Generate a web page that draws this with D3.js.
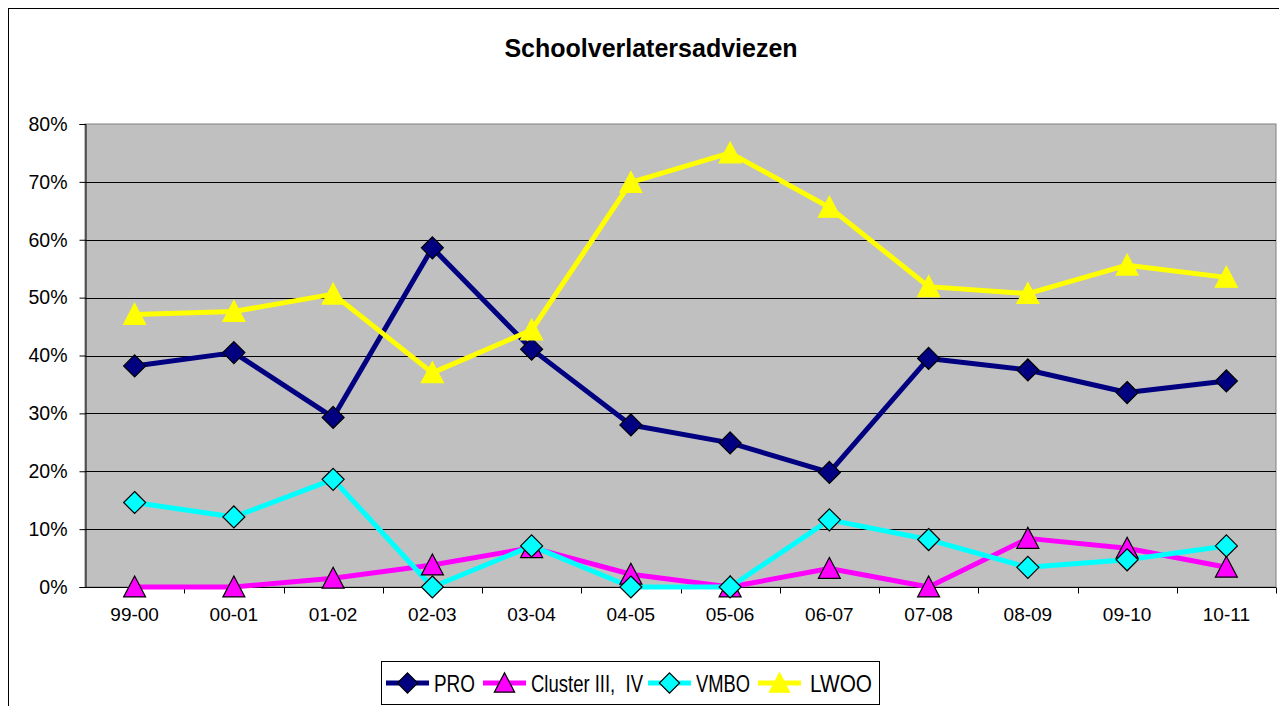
<!DOCTYPE html>
<html>
  <head>
    <meta charset="utf-8">
    <title>Schoolverlatersadviezen</title>
    <script src="https://d3js.org/d3.v7.min.js"></script>
    <style>
      body { margin: 0; background: #fff; }
      text { font-family: Arial, "Liberation Sans", sans-serif; fill: #000; }
    </style>
  </head>
  <body>
    <div id="graph"></div>
  </body>

  <script>
    // Chart data (percent)
    const years = ["99-00", "00-01", "01-02", "02-03", "03-04", "04-05", "05-06", "06-07", "07-08", "08-09", "09-10", "10-11"];
    const pro     = [38.2, 40.5, 29.3, 58.6, 41.1, 28.0, 24.9, 19.8, 39.5, 37.5, 33.6, 35.6];
    const cluster = [0, 0, 1.5, 3.8, 6.8, 2.2, 0, 3.2, 0, 8.4, 6.7, 3.4];
    const vmbo    = [14.6, 12.1, 18.6, 0, 7.1, 0, 0, 11.6, 8.2, 3.4, 4.7, 7.1];
    const lwoo    = [47.1, 47.6, 50.6, 37.0, 44.4, 69.9, 75.0, 65.6, 51.9, 50.7, 55.6, 53.5];
    const y_ticks = [0, 10, 20, 30, 40, 50, 60, 70, 80];

    const width = 1279;
    const height = 706;
    const margin = ({top: 124, right: 3, bottom: 119, left: 85});

    // marker shapes like the spreadsheet ones
    const diamond = {draw(ctx, size) {
      const r = Math.sqrt(size) / 2;
      ctx.moveTo(0, -r); ctx.lineTo(r, 0); ctx.lineTo(0, r); ctx.lineTo(-r, 0); ctx.closePath();
    }};
    const triangle = {draw(ctx, size) {
      const r = Math.sqrt(size) / 2;
      ctx.moveTo(0, -r); ctx.lineTo(r, r * 0.9); ctx.lineTo(-r, r * 0.9); ctx.closePath();
    }};

    const series = [
      {name: "PRO", values: pro, color: "#000080", shape: diamond, size: 484},
      {name: "Cluster III,  IV", values: cluster, color: "#ff00ff", shape: triangle, size: 484},
      {name: "VMBO", values: vmbo, color: "#00ffff", shape: diamond, size: 484},
      {name: "LWOO", values: lwoo, color: "#ffff00", shape: triangle, size: 484}
    ];

    let svg = d3.select("#graph").append("svg")
      .attr("width", width)
      .attr("height", height);

    // outer chart border
    svg.append("rect")
      .attr("x", 8.5).attr("y", 8.5)
      .attr("width", width + 20).attr("height", height + 20)
      .attr("fill", "#fff")
      .attr("stroke", "#000")
      .attr("stroke-width", 1);

    svg.append("text")
      .attr("x", 651)
      .attr("y", 57)
      .style("text-anchor", "middle")
      .style("font-size", "25px")
      .style("font-weight", "bold")
      .text("Schoolverlatersadviezen");

    let x = d3.scaleBand()
      .domain(years)
      .range([margin.left, width - margin.right]);
    let y = d3.scaleLinear()
      .domain([0, 80])
      .range([height - margin.bottom, margin.top]);

    // plot area
    svg.append("rect")
      .attr("x", margin.left).attr("y", margin.top)
      .attr("width", width - margin.right - margin.left)
      .attr("height", y(0) - margin.top)
      .attr("fill", "#c0c0c0")
      .attr("stroke", "#808080");

    // gridlines
    svg.append("g")
      .selectAll("line")
      .data(y_ticks.filter(d => d > 0 && d < 80))
      .join("line")
      .attr("x1", margin.left).attr("x2", width - margin.right)
      .attr("y1", d => Math.round(y(d)) + 0.5).attr("y2", d => Math.round(y(d)) + 0.5)
      .attr("stroke", "#000");

    // y axis
    let y_axis = d3.axisLeft(y)
      .tickValues(y_ticks)
      .tickSize(6)
      .tickPadding(12)
      .tickFormat(d => d + "%");
    let gy = svg.append("g")
      .attr("transform", `translate(${margin.left + 0.5}, 0)`)
      .call(y_axis);
    gy.select(".domain").attr("stroke", "#000");
    gy.selectAll("text").style("font-size", "19.5px").attr("font-family", null);

    // x axis: ticks on category boundaries
    let gx = svg.append("g")
      .attr("transform", `translate(0, ${Math.round(y(0)) + 0.5})`);
    gx.append("line")
      .attr("x1", margin.left).attr("x2", width - margin.right)
      .attr("stroke", "#000");
    gx.selectAll(".tk")
      .data(years)
      .join("line")
      .attr("class", "tk")
      .attr("x1", d => Math.round(x(d) + x.bandwidth()) + 0.5)
      .attr("x2", d => Math.round(x(d) + x.bandwidth()) + 0.5)
      .attr("y1", 0).attr("y2", 6)
      .attr("stroke", "#000");
    gx.selectAll("text")
      .data(years)
      .join("text")
      .attr("x", d => x(d) + x.bandwidth() / 2)
      .attr("y", 33)
      .style("text-anchor", "middle")
      .style("font-size", "19px")
      .text(d => d);

    const cx = (d, i) => x(years[i]) + x.bandwidth() / 2;
    let line = d3.line()
      .x(cx)
      .y(d => y(d));

    series.forEach(s => {
      svg.append("path")
        .datum(s.values)
        .attr("fill", "none")
        .attr("stroke", s.color)
        .attr("stroke-width", 5)
        .attr("stroke-linejoin", "round")
        .attr("d", line);
    });
    series.forEach(s => {
      svg.append("g")
        .selectAll("path")
        .data(s.values)
        .join("path")
        .attr("transform", (d, i) => `translate(${cx(d, i)}, ${y(d)})`)
        .attr("d", d3.symbol().type(s.shape).size(s.size))
        .attr("fill", s.color)
        .attr("stroke", s.name === "LWOO" ? s.color : "#000")
        .attr("stroke-width", 1.2);
    });

    // legend
    const legend_x = [386, 483, 648, 758];
    const legend_text_x = [434, 531, 696, 810];
    const legend_y = 683;
    let legend = svg.append("g");
    legend.append("rect")
      .attr("x", 381.5).attr("y", 661.5)
      .attr("width", 498).attr("height", 43)
      .attr("fill", "#fff")
      .attr("stroke", "#000");
    series.forEach((s, i) => {
      legend.append("line")
        .attr("x1", legend_x[i]).attr("x2", legend_x[i] + 43)
        .attr("y1", legend_y).attr("y2", legend_y)
        .attr("stroke", s.color)
        .attr("stroke-width", 5);
      legend.append("path")
        .attr("transform", `translate(${legend_x[i] + 21.5}, ${legend_y})`)
        .attr("d", d3.symbol().type(s.shape).size(s.size * 0.85))
        .attr("fill", s.color)
        .attr("stroke", s.name === "LWOO" ? s.color : "#000")
        .attr("stroke-width", 1.2);
      legend.append("text")
        .attr("x", legend_text_x[i])
        .attr("y", legend_y + 9)
        .style("font-size", "24px")
        .attr("textLength", [41, 112, 54, 62][i])
        .attr("lengthAdjust", "spacingAndGlyphs")
        .style("white-space", "pre")
        .text(s.name);
    });
  </script>
</html>
